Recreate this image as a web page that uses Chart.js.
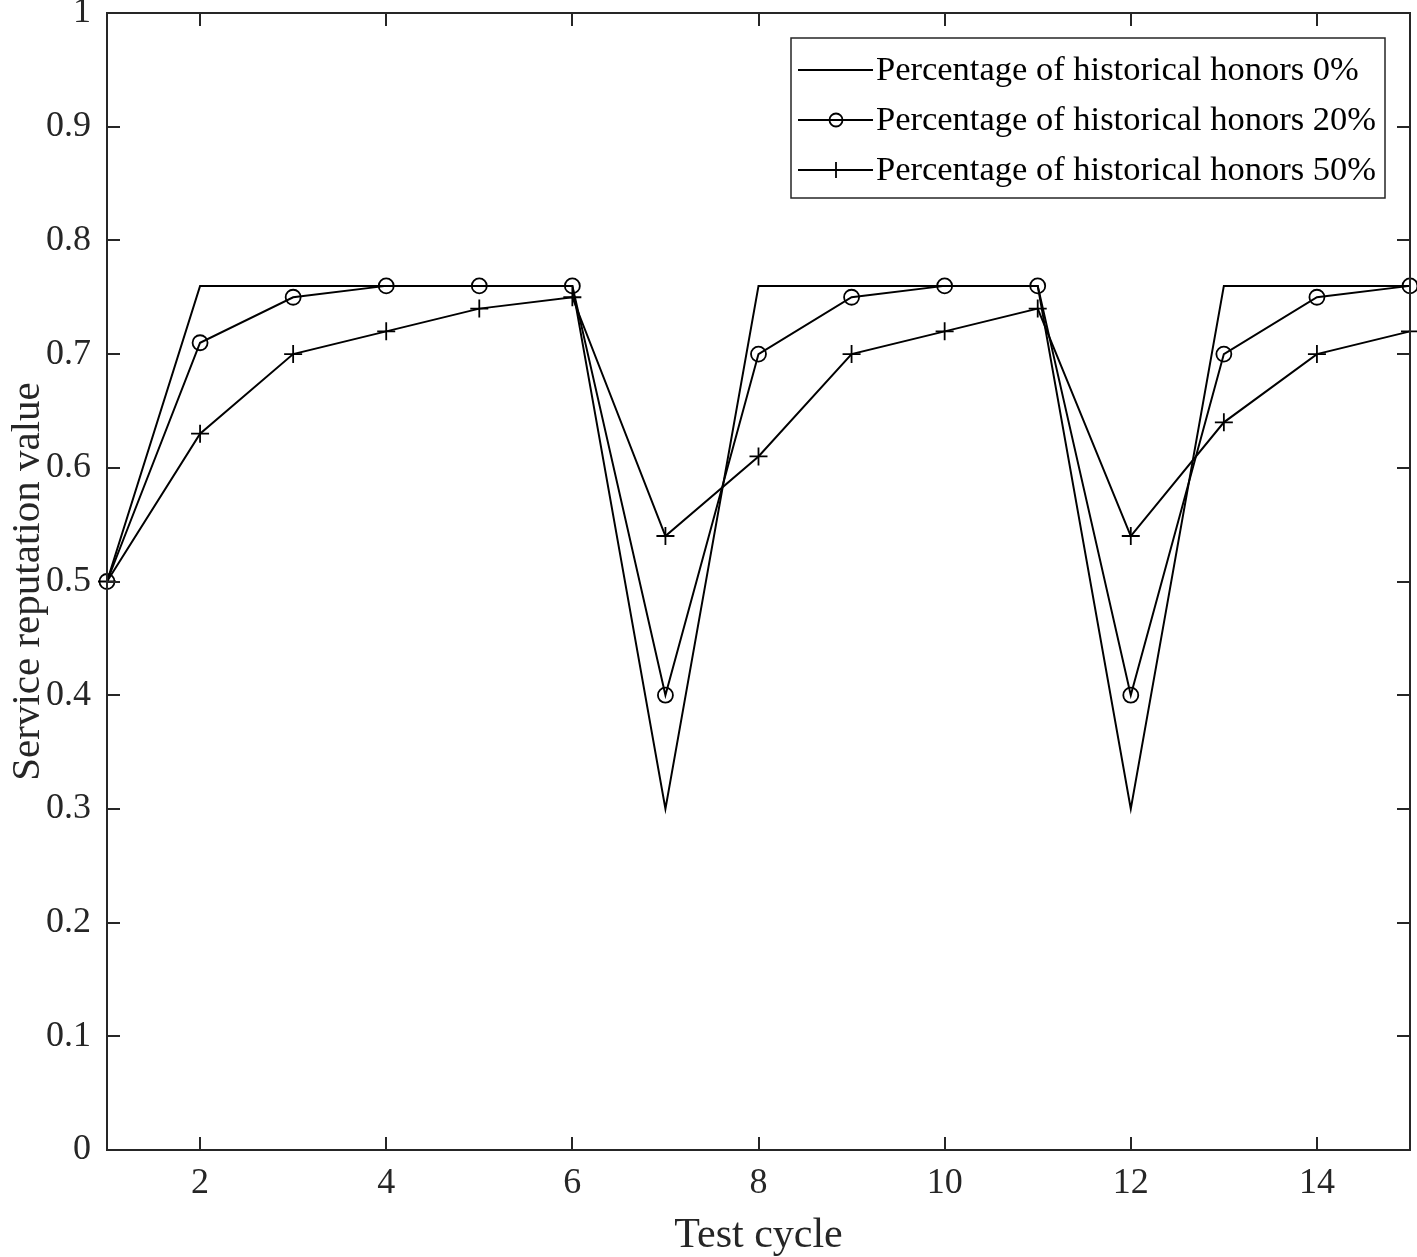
<!DOCTYPE html>
<html lang="en">
<head>
    <meta charset="UTF-8">
    <title>Service reputation value</title>
    <script src="https://cdn.jsdelivr.net/npm/chart.js"></script>
    <style>
        html, body { margin: 0; padding: 0; background: #fff; }
        #wrap { width: 1417px; height: 1257px; position: relative; }
    </style>
</head>
<body>
    <div id="wrap"><canvas id="chart" width="1417" height="1257"></canvas></div>

    <script>
        const cycles = [1, 2, 3, 4, 5, 6, 7, 8, 9, 10, 11, 12, 13, 14, 15];
        const honors0 = [0.5, 0.76, 0.76, 0.76, 0.76, 0.76, 0.3, 0.76, 0.76, 0.76, 0.76, 0.3, 0.76, 0.76, 0.76];
        const honors20 = [0.5, 0.71, 0.75, 0.76, 0.76, 0.76, 0.4, 0.7, 0.75, 0.76, 0.76, 0.4, 0.7, 0.75, 0.76];
        const honors50 = [0.5, 0.63, 0.7, 0.72, 0.74, 0.75, 0.54, 0.61, 0.7, 0.72, 0.74, 0.54, 0.64, 0.7, 0.72];
        const seriesLabels = [
            'Percentage of historical honors 0%',
            'Percentage of historical honors 20%',
            'Percentage of historical honors 50%'
        ];
        const xTicks = [2, 4, 6, 8, 10, 12, 14];
        const yTicks = [0, 0.1, 0.2, 0.3, 0.4, 0.5, 0.6, 0.7, 0.8, 0.9, 1];

        const FONT = '"Liberation Serif", "Times New Roman", serif';
        const INK = '#262626';

        function pts(ys) {
            return cycles.map((c, i) => ({ x: c, y: ys[i] }));
        }

        // box around the plot + inward ticks on all four sides, MATLAB style
        const boxPlugin = {
            id: 'box',
            afterDraw(chart) {
                const { ctx, chartArea: a, scales } = chart;
                ctx.save();
                ctx.strokeStyle = INK;
                ctx.lineWidth = 2;
                ctx.strokeRect(a.left, a.top, a.right - a.left, a.bottom - a.top);
                ctx.beginPath();
                const t = 13;
                xTicks.forEach(v => {
                    const px = Math.round(scales.x.getPixelForValue(v));
                    ctx.moveTo(px, a.bottom); ctx.lineTo(px, a.bottom - t);
                    ctx.moveTo(px, a.top); ctx.lineTo(px, a.top + t);
                });
                yTicks.forEach(v => {
                    const py = Math.round(scales.y.getPixelForValue(v));
                    ctx.moveTo(a.left, py); ctx.lineTo(a.left + t, py);
                    ctx.moveTo(a.right, py); ctx.lineTo(a.right - t, py);
                });
                ctx.stroke();

                // legend box
                const lx = 791, ly = 38, lw = 594, lh = 160;
                ctx.fillStyle = '#fff';
                ctx.fillRect(lx, ly, lw, lh);
                ctx.strokeStyle = INK;
                ctx.lineWidth = 1.5;
                ctx.strokeRect(lx, ly, lw, lh);
                ctx.font = '34.5px ' + FONT;
                ctx.textBaseline = 'middle';
                ctx.textAlign = 'left';
                chart.data.datasets.forEach((ds, i) => {
                    const cy = ly + 32 + i * 50;
                    ctx.strokeStyle = '#000';
                    ctx.lineWidth = 1.8;
                    ctx.beginPath();
                    ctx.moveTo(lx + 7, cy); ctx.lineTo(lx + 82, cy);
                    ctx.stroke();
                    const mx = lx + 45;
                    if (ds.pointStyle === 'circle') {
                        ctx.beginPath();
                        ctx.arc(mx, cy, 6.5, 0, Math.PI * 2);
                        ctx.stroke();
                    } else if (ds.pointStyle === 'cross') {
                        ctx.beginPath();
                        ctx.moveTo(mx, cy - 8); ctx.lineTo(mx, cy + 8);
                        ctx.stroke();
                    }
                    ctx.fillStyle = '#000';
                    ctx.fillText(ds.label, lx + 85, cy + 1);
                });
                ctx.restore();
            }
        };

        const common = {
            borderColor: '#000',
            borderWidth: 2,
            pointBorderColor: '#000',
            pointBackgroundColor: 'rgba(0,0,0,0)',
            pointBorderWidth: 1.8,
            tension: 0,
            clip: false
        };

        new Chart(document.getElementById('chart'), {
            type: 'line',
            data: {
                datasets: [
                    { ...common, label: seriesLabels[0], data: pts(honors0), pointRadius: 0, pointStyle: false },
                    { ...common, label: seriesLabels[1], data: pts(honors20), pointRadius: 7.5, pointStyle: 'circle' },
                    { ...common, label: seriesLabels[2], data: pts(honors50), pointRadius: 9, pointStyle: 'cross' }
                ]
            },
            options: {
                responsive: false,
                animation: false,
                layout: { autoPadding: false, padding: { top: 13, right: 7, left: 0, bottom: 0 } },
                plugins: { legend: { display: false }, tooltip: { enabled: false } },
                scales: {
                    x: {
                        type: 'linear',
                        min: 1, max: 15,
                        afterBuildTicks(s) { s.ticks = xTicks.map(v => ({ value: v })); },
                        afterFit(s) { s.height = 107; s.paddingLeft = 0; s.paddingRight = 0; },
                        grid: { display: false },
                        border: { display: false },
                        ticks: { color: INK, font: { family: FONT, size: 36 }, padding: 4, maxRotation: 0 },
                        title: { display: true, text: 'Test cycle', color: INK, font: { family: FONT, size: 42 }, padding: { top: 0, bottom: -4 } }
                    },
                    y: {
                        min: 0, max: 1,
                        afterBuildTicks(s) { s.ticks = yTicks.map(v => ({ value: v })); },
                        afterFit(s) { s.width = 107; s.paddingTop = 0; s.paddingBottom = 0; },
                        grid: { display: false },
                        border: { display: false },
                        ticks: {
                            color: INK, font: { family: FONT, size: 36 }, padding: 8,
                            callback: v => String(Math.round(v * 10) / 10)
                        },
                        title: { display: true, text: 'Service reputation value', color: INK, font: { family: FONT, size: 41 }, padding: { bottom: 0 } }
                    }
                }
            },
            plugins: [boxPlugin]
        });
    </script>
</body>
</html>
